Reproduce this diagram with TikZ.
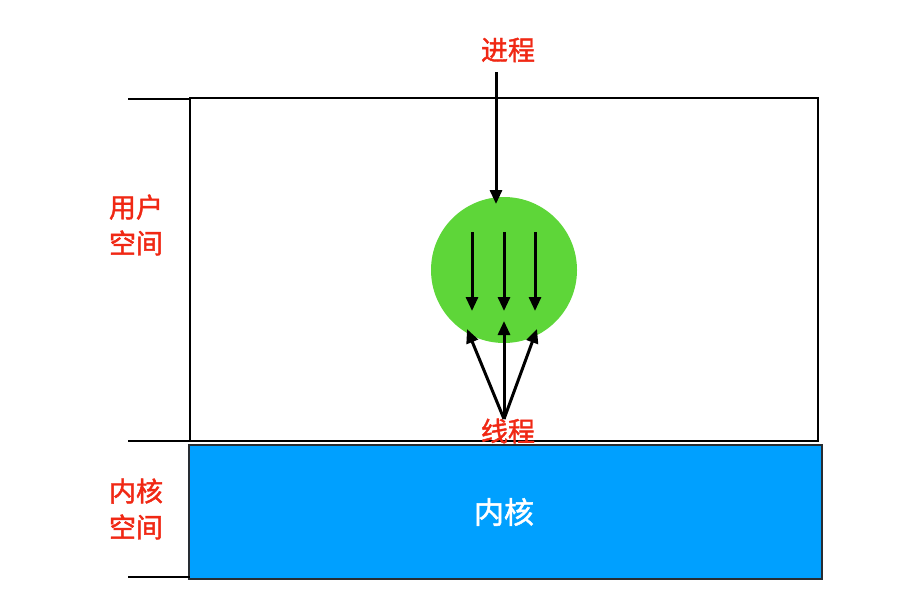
\documentclass[tikz,border=0pt]{standalone}
\usepackage{fontspec}
\newfontfamily\cjk{Noto Sans CJK SC}
\newfontfamily\cjkb[FakeBold=1.6]{Noto Sans CJK SC}
\usetikzlibrary{arrows.meta}
\definecolor{lblred}{RGB}{240,40,20}
\definecolor{kblue}{RGB}{0,160,255}
\definecolor{pgreen}{RGB}{94,214,57}
\begin{document}
\begin{tikzpicture}[x=1pt,y=-1pt,
  lbl/.style={text=lblred,font=\cjkb\fontsize{27}{34}\selectfont,inner sep=0pt,align=center},
  arr/.style={line width=3pt,-{Triangle[length=14pt,width=12pt]}},
  tick/.style={line width=2.8pt}]
\useasboundingbox (0,0) rectangle (907,597);
% user space box
\draw[line width=1.4pt] (190,98) rectangle (818,441);
% kernel box
\node[draw={rgb,255:red,40;green,45;blue,50},line width=2pt,fill=kblue,minimum width=633pt,minimum height=134pt,anchor=north west,inner sep=0pt] (kernel) at (188,444) {};
\node[text=white,font=\cjkb\fontsize{30}{36}\selectfont,inner sep=0pt] (ktext) at (504,512) {内核};
% ticks
\coordinate (t1a) at (128,99); \coordinate (t1b) at (190,99);
\coordinate (t2a) at (128,441); \coordinate (t2b) at (190,441);
\coordinate (t3a) at (128,577); \coordinate (t3b) at (190,577);
\draw[tick] (t1a) -- (t1b);
\draw[tick] (t2a) -- (t2b);
\draw[tick] (t3a) -- (t3b);
% labels
\node[lbl] (us) at (136,225) {用户\\[2pt]空间};
\node[lbl] (ks) at (136,509) {内核\\[2pt]空间};
\node[lbl] (proc) at (508,50) {进程};
\node[lbl] (thr) at (508,431) {线程};
% process circle
\node[circle,fill=pgreen,minimum size=146pt,inner sep=0pt] (circ) at (504,270) {};
% arrows
\coordinate (ptop) at (496,72);
\coordinate (pend) at (496,204);
\draw[arr] (ptop) -- (pend);
\foreach \x/\n in {472/a,504/b,535/c}{
  \coordinate (s\n) at (\x,232);
  \coordinate (e\n) at (\x,311);
  \draw[arr] (s\n) -- (e\n);
}
\coordinate (root) at (504,419);
\coordinate (u1) at (467,329);
\coordinate (u2) at (504,321);
\coordinate (u3) at (537,329);
\draw[arr] (root) -- (u1);
\draw[arr] (root) -- (u2);
\draw[arr] (root) -- (u3);
\end{tikzpicture}
\end{document}
